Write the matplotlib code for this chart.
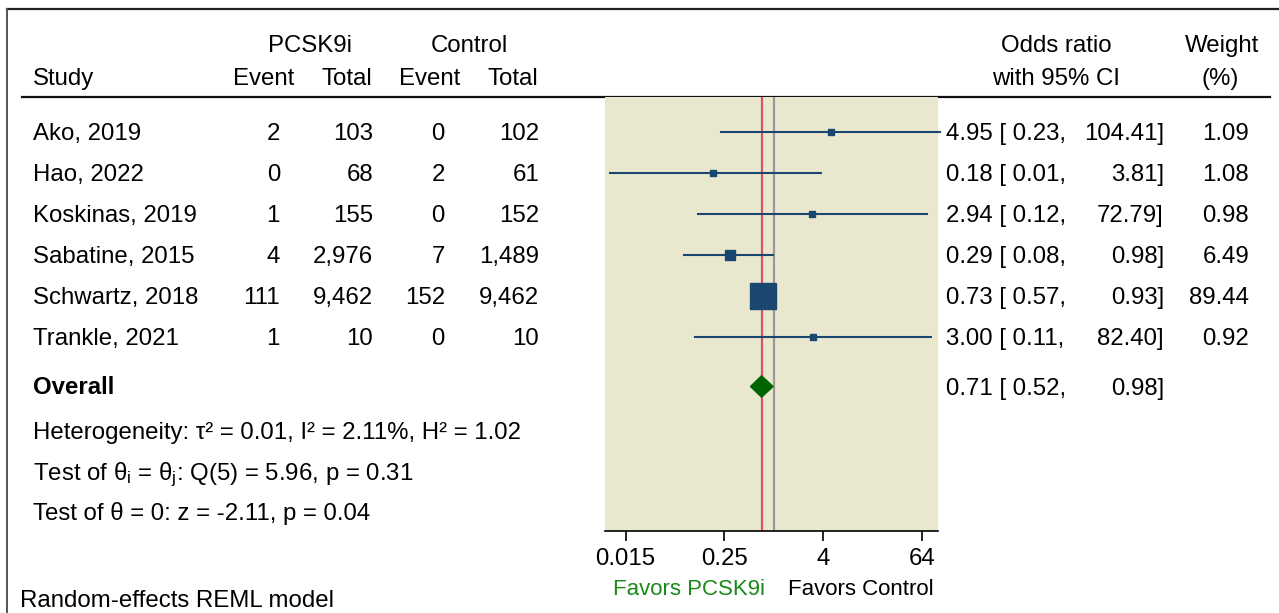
import numpy as np
import matplotlib.pyplot as plt
from matplotlib.lines import Line2D
from matplotlib.patches import Polygon

plt.rcParams['font.family'] = ['Liberation Sans', 'DejaVu Sans']
plt.rcParams['mathtext.fontset'] = 'custom'
plt.rcParams['mathtext.rm'] = 'Liberation Sans'
plt.rcParams['mathtext.it'] = 'Liberation Sans'

# ---- data ----
studies = ['Ako, 2019', 'Hao, 2022', 'Koskinas, 2019', 'Sabatine, 2015',
           'Schwartz, 2018', 'Trankle, 2021']
trt_event = [2, 0, 1, 4, 111, 1]
trt_total = [103, 68, 155, 2976, 9462, 10]
ctl_event = [0, 2, 0, 7, 152, 0]
ctl_total = [102, 61, 152, 1489, 9462, 10]
odds = [4.95, 0.18, 2.94, 0.29, 0.73, 3.00]
ci_low = [0.23, 0.01, 0.12, 0.08, 0.57, 0.11]
ci_high = [104.41, 3.81, 72.79, 0.98, 0.93, 82.40]
weights = [1.09, 1.08, 0.98, 6.49, 89.44, 0.92]
overall = (0.71, 0.52, 0.98)
tick_vals = [2 ** -6, 0.25, 4, 64]
tick_labels = ['0.015', '0.25', '4', '64']
stats_lines = ['Heterogeneity: τ² = 0.01, I² = 2.11%, H² = 1.02',
               r'Test of θ$_\mathregular{i}$ = θ$_\mathregular{j}$: Q(5) = 5.96, p = 0.31',
               'Test of θ = 0: z = -2.11, p = 0.04']

W, H = 1279, 613
FS = 17.3
navy = '#1a476f'
fig = plt.figure(figsize=(W / 100, H / 100), dpi=100)

# overlay axes in pixel coordinates for the table text
tx = fig.add_axes([0, 0, 1, 1])
tx.set_xlim(0, W)
tx.set_ylim(H, 0)
tx.axis('off')

row0, step = 131.7, 41.1
def row_y(i):
    return row0 + step * i

# forest plot axes
ax_l, ax_r, ax_t, ax_b = 605, 938, 97, 531
ax = fig.add_axes([ax_l / W, (H - ax_b) / H, (ax_r - ax_l) / W, (ax_b - ax_t) / H])
ax.set_facecolor('#eae7cf')
ax.set_xscale('log', base=2)
ax.set_xlim(2 ** -6.83, 2 ** 6.645)
ax.set_ylim((ax_b - row0) / step, (ax_t - row0) / step)
for s in ['top', 'right', 'left']:
    ax.spines[s].set_visible(False)
ax.spines['bottom'].set_linewidth(1.2)
ax.set_yticks([])
ax.set_xticks(tick_vals)
ax.set_xticklabels(tick_labels, fontsize=FS)
ax.minorticks_off()
ax.tick_params(axis='x', length=7, width=1.2, pad=5)

ax.axvline(1, color='#9a9a9a', lw=1.6, zorder=1)
ax.axvline(overall[0], color='#d9536b', lw=1.6, zorder=1)

wmax = max(weights)
for i in range(len(studies)):
    ax.plot([ci_low[i], ci_high[i]], [i, i], color=navy, lw=1.5, zorder=2,
            clip_on=False)
    side = 3 + 24 * np.sqrt(weights[i] / wmax)  # pixels
    ax.plot(odds[i], i, marker='s', ms=side * 0.72, color=navy, mec=navy,
            zorder=3, lw=0)

oy = (386.5 - row0) / step
half = 0.26
dia = Polygon([[overall[1], oy], [overall[0], oy - half], [overall[2], oy],
               [overall[0], oy + half]], closed=True, color='#006400', zorder=4)
ax.add_patch(dia)

# ---- border and header rule ----
tx.add_line(Line2D([7, W], [9, 9], color='#222222', lw=1.6))
tx.add_line(Line2D([7, 7], [9, H], color='#555555', lw=1.4))
tx.add_line(Line2D([22, 1270], [96.5, 96.5], color='#111111', lw=1.6))

# ---- text helper: y is the visual centre of digits ----
def put(x, y, s, ha='left', fs=FS, **extra):
    tx.text(x, y + 8, s, ha=ha, va='baseline', fontsize=fs, **extra)

# ---- headers ----
put(310, 44, 'PCSK9i', ha='center')
put(469, 44, 'Control', ha='center')
put(33, 77, 'Study')
put(294, 77, 'Event', ha='right')
put(372, 77, 'Total', ha='right')
put(460, 77, 'Event', ha='right')
put(538, 77, 'Total', ha='right')
put(1056, 44, 'Odds ratio', ha='center')
put(1056, 77, 'with 95% CI', ha='center')
put(1222, 44, 'Weight', ha='center')
put(1220, 77, '(%)', ha='center')

# ---- study rows ----
for i, name in enumerate(studies):
    y = row_y(i)
    put(33, y, name)
    put(280, y, f'{trt_event[i]:,}', ha='right')
    put(373, y, f'{trt_total[i]:,}', ha='right')
    put(445, y, f'{ctl_event[i]:,}', ha='right')
    put(539, y, f'{ctl_total[i]:,}', ha='right')
    put(946, y, f'{odds[i]:.2f} [ {ci_low[i]:.2f},')
    put(1164, y, f'{ci_high[i]:.2f}]', ha='right')
    put(1249, y, f'{weights[i]:.2f}', ha='right')

put(33, 386.5, 'Overall', fontweight='bold')
put(946, 386.5, f'{overall[0]:.2f} [ {overall[1]:.2f},')
put(1164, 386.5, f'{overall[2]:.2f}]', ha='right')

for k, line in enumerate(stats_lines):
    put(33, 431 + 40.7 * k, line)

put(689, 587, 'Favors PCSK9i', ha='center', fs=16, color='#1a8a1a')
put(861, 587, 'Favors Control', ha='center', fs=16)
put(20, 599, 'Random-effects REML model')

fig.savefig('out.png', dpi=100)
